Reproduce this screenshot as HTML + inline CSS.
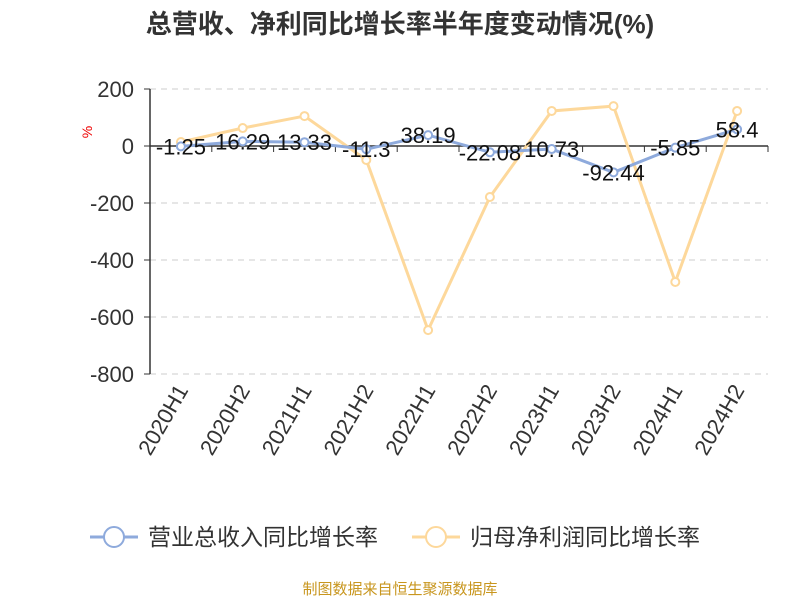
<!DOCTYPE html>
<html><head><meta charset="utf-8"><style>
body{margin:0;background:#fff;width:800px;height:600px;overflow:hidden;font-family:"Liberation Sans","Noto Sans CJK SC",sans-serif}
</style></head><body>
<svg id="c" width="800" height="600" xmlns="http://www.w3.org/2000/svg" font-family="Liberation Sans, Noto Sans CJK SC, sans-serif">
<text x="400" y="33" text-anchor="middle" font-size="26" font-weight="bold" fill="#333">总营收、净利同比增长率半年度变动情况(%)</text>
<text x="92" y="132" font-size="14" fill="#e00" transform="rotate(-90 92 132)" text-anchor="middle">%</text>
<g id="grid"></g><g id="axes"></g><g id="series"></g>
<g>
<g><line x1="90" y1="537" x2="138" y2="537" stroke="#8eaadc" stroke-width="3"/><circle cx="114" cy="537" r="10" fill="#fff" stroke="#8eaadc" stroke-width="2"/><text x="148" y="545" font-size="23" fill="#333">营业总收入同比增长率</text></g>
<g><line x1="412" y1="537" x2="460" y2="537" stroke="#fdd89b" stroke-width="3"/><circle cx="436" cy="537" r="10" fill="#fff" stroke="#fdd89b" stroke-width="2"/><text x="470" y="545" font-size="23" fill="#333">归母净利润同比增长率</text></g>
</g>
<text x="400" y="594" text-anchor="middle" font-size="15" fill="#c8961e">制图数据来自恒生聚源数据库</text>
</svg>
<script>
const categories=["2020H1","2020H2","2021H1","2021H2","2022H1","2022H2","2023H1","2023H2","2024H1","2024H2"];
const revenueGrowth=[-1.25,16.29,13.33,-11.3,38.19,-22.08,-10.73,-92.44,-5.85,58.4];
const revenueLabels=["-1.25","16.29","13.33","-11.3","38.19","-22.08","10.73","-92.44","-5.85","58.4"];
const profitGrowth=[14,63,105,-49,-646,-179,123,140,-477,123];
const yTicks=[200,0,-200,-400,-600,-800];
const NS="http://www.w3.org/2000/svg";
const X0=150,X1=768,Y0=146,K=0.285;
const bw=(X1-X0)/categories.length;
const x=i=>X0+bw*(i+0.5);
const y=v=>Y0-v*K;
function mk(t,a,p){const e=document.createElementNS(NS,t);for(const k in a)e.setAttribute(k,a[k]);p.appendChild(e);return e;}
const g=document.getElementById('grid'),ax=document.getElementById('axes'),s=document.getElementById('series');
yTicks.forEach(v=>{
 if(v!==0){const l=mk('line',{x1:X0,x2:X1,y1:y(v),y2:y(v),stroke:'#ccc','stroke-dasharray':'6,5'},g);
 
 }
 const t=mk('text',{x:X0-16,y:y(v)+8,'text-anchor':'end','font-size':22,fill:'#333'},ax);t.textContent=v;
 
 
 mk('line',{x1:X0-6,x2:X0,y1:y(v),y2:y(v),stroke:'#333'},ax);
});
const ya=mk('line',{x1:X0,x2:X0,y1:y(200),y2:y(-800),stroke:'#333','stroke-width':1.5},ax);


const xa=mk('line',{x1:X0,x2:X1,y1:Y0,y2:Y0,stroke:'#333','stroke-width':1.5},ax);


for(let i=0;i<=categories.length;i++)mk('line',{x1:X0+bw*i,x2:X0+bw*i,y1:Y0,y2:Y0+6,stroke:'#333'},ax);
categories.forEach((c,i)=>{
 const tx=x(i)+8,ty=390;
 const t=mk('text',{x:tx,y:ty,'text-anchor':'end','font-size':22,fill:'#333',transform:`rotate(-60 ${tx} ${ty})`},ax);t.textContent=c;
 
 
});
function line(vals,col,name){
 const p=mk('polyline',{points:vals.map((v,i)=>x(i)+','+y(v)).join(' '),fill:'none',stroke:col,'stroke-width':3},s);
 
 
 vals.forEach((v,i)=>{const c=mk('circle',{cx:x(i),cy:y(v),r:4,fill:'#fff',stroke:col,'stroke-width':2},s);
 
 });
}
line(profitGrowth,'#fdd89b','net-profit');
line(revenueGrowth,'#8eaadc','revenue');
revenueGrowth.forEach((v,i)=>{
 const t=mk('text',{x:x(i),y:y(v)+8,'text-anchor':'middle','font-size':22,fill:'#111'},s);t.textContent=revenueLabels[i];
 
 
});
</script>
</body></html>
